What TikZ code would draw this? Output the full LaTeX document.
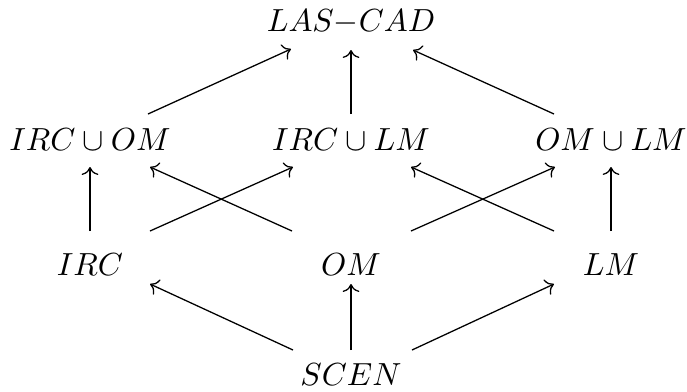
\documentclass[tikz,border=0pt]{standalone}
\usetikzlibrary{cd}
\begin{document}
\begin{tikzpicture}[x=0.313pt,y=-0.313pt,
  lbl/.style={inner sep=0pt,font=\normalsize},
  arr/.style={-cm to,line width=0.4pt}]
\useasboundingbox (0,0) rectangle (687,391);
\node[lbl] (top) at (351,22) {$LAS{-}CAD$};
\node[lbl] (a) at (90,140) {$IRC\cup OM$};
\node[lbl] (b) at (351,140) {$IRC\cup LM$};
\node[lbl] (c) at (611,140) {$OM\cup LM$};
\node[lbl] (d) at (90,265) {$IRC$};
\node[lbl] (e) at (351,265) {$OM$};
\node[lbl] (f) at (611,265) {$LM$};
\node[lbl] (s) at (351,375) {$SCEN$};
% top row arrows
\draw[arr] ([shift={(58,-26)}]a.center) -- ([shift={(-60,27)}]top.center);
\draw[arr] ([shift={(0,-26)}]b.center) -- ([shift={(0,28)}]top.center);
\draw[arr] ([shift={(-57,-26)}]c.center) -- ([shift={(62,28)}]top.center);
% middle arrows
\draw[arr] ([shift={(0,-34)}]d.center) -- ([shift={(0,27)}]a.center);
\draw[arr] ([shift={(60,-34)}]d.center) -- ([shift={(-58,27)}]b.center);
\draw[arr] ([shift={(-59,-34)}]e.center) -- ([shift={(60,27)}]a.center);
\draw[arr] ([shift={(60,-34)}]e.center) -- ([shift={(-56,27)}]c.center);
\draw[arr] ([shift={(-57,-34)}]f.center) -- ([shift={(60,27)}]b.center);
\draw[arr] ([shift={(0,-34)}]f.center) -- ([shift={(0,27)}]c.center);
% bottom arrows
\draw[arr] ([shift={(-58,-25)}]s.center) -- ([shift={(60,19)}]d.center);
\draw[arr] ([shift={(0,-25)}]s.center) -- ([shift={(0,19)}]e.center);
\draw[arr] ([shift={(61,-25)}]s.center) -- ([shift={(-57,19)}]f.center);
\end{tikzpicture}
\end{document}
